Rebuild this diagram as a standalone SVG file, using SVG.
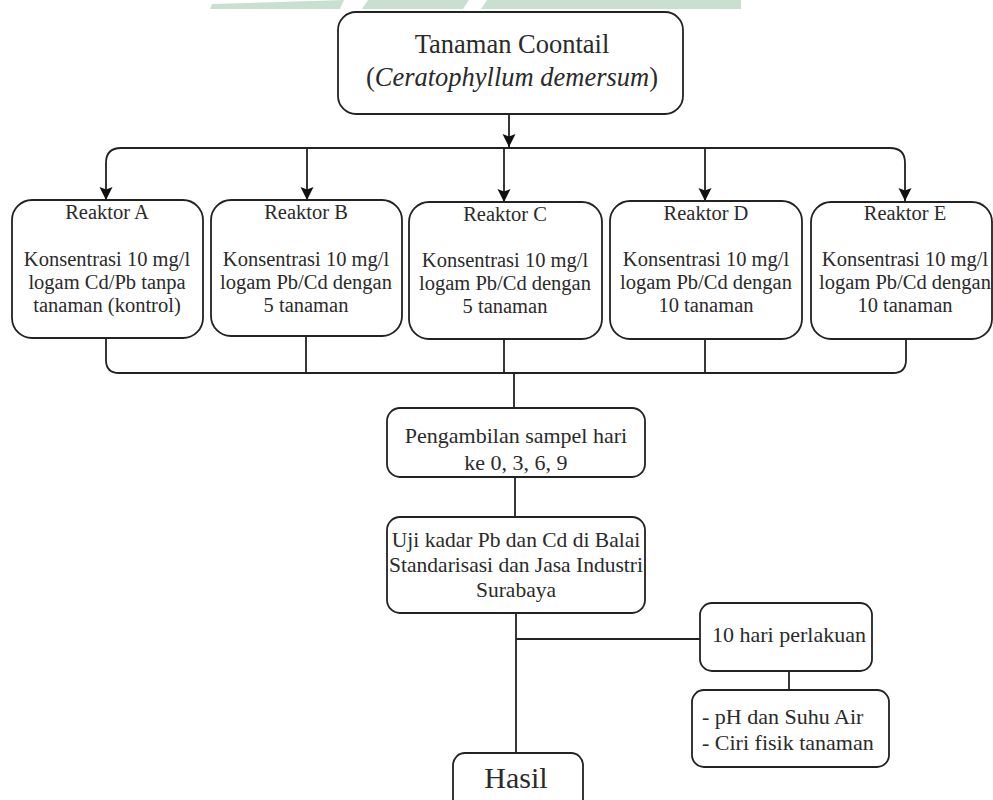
<svg xmlns="http://www.w3.org/2000/svg" width="993" height="800" viewBox="0 0 993 800" font-family="Liberation Serif, Times New Roman, serif">
<style>
.box{fill:#fff;stroke:#222;stroke-width:1.8}
.ln{fill:none;stroke:#222;stroke-width:1.8}
text{fill:#2a2a2a;text-anchor:middle}
.r{font-size:20.5px}
.m{font-size:22px}
.wm{fill:#c9e0d1}
</style>
<defs>
<marker id="arr" viewBox="0 0 14 14" markerWidth="14" markerHeight="14" refX="13" refY="7" orient="auto" markerUnits="userSpaceOnUse">
<path d="M0,0.5 L13,7 L0,13.5 L2.5,7 Z" fill="#111"/>
</marker>
</defs>
<rect width="993" height="800" fill="#fff"/>
<g id="watermark">
<polygon class="wm" points="210,9 212,4 344,0 340,9"/>
<polygon class="wm" points="362,9 368,0 469,0 463,9"/>
<polygon class="wm" points="481,9 487,0 741,0 741,9"/>
</g>
<g id="connectors">
<path class="ln" d="M509,114 V147" marker-end="url(#arr)"/>
<path class="ln" d="M121,148 H890"/>
<path class="ln" d="M121,148 Q106,148 106,163 V200" marker-end="url(#arr)"/>
<path class="ln" d="M890,148 Q905,148 905,163 V201" marker-end="url(#arr)"/>
<path class="ln" d="M307,148 V200" marker-end="url(#arr)"/>
<path class="ln" d="M504,148 V202" marker-end="url(#arr)"/>
<path class="ln" d="M705,148 V201" marker-end="url(#arr)"/>
<path class="ln" d="M106,338 V360 Q106,373 119,373 H893 Q906,373 906,360 V339"/>
<path class="ln" d="M306,336 V373"/>
<path class="ln" d="M504,339 V373"/>
<path class="ln" d="M705,339 V373"/>
<path class="ln" d="M514,373 V408"/>
<path class="ln" d="M515,477 V517"/>
<path class="ln" d="M516,613 V753"/>
<path class="ln" d="M516,639 H700"/>
<path class="ln" d="M789,671 V690"/>
</g>
<g id="n-top">
<rect class="box" x="338" y="12" width="345" height="102" rx="18"/>
<text x="512" y="53" font-size="26.5">Tanaman Coontail</text>
<text x="512" y="86" font-size="26.5">(<tspan font-style="italic">Ceratophyllum demersum</tspan>)</text>
</g>
<g id="n-a">
<rect class="box" x="12" y="200" width="191" height="138" rx="20"/>
<text class="r" x="107" y="219">Reaktor A</text>
<text class="r" x="107" y="266">Konsentrasi 10 mg/l</text>
<text class="r" x="107" y="289">logam Cd/Pb tanpa</text>
<text class="r" x="107" y="312">tanaman (kontrol)</text>
</g>
<g id="n-b">
<rect class="box" x="211" y="200" width="191" height="136" rx="20"/>
<text class="r" x="306" y="219">Reaktor B</text>
<text class="r" x="306" y="266">Konsentrasi 10 mg/l</text>
<text class="r" x="306" y="289">logam Pb/Cd dengan</text>
<text class="r" x="306" y="312">5 tanaman</text>
</g>
<g id="n-c">
<rect class="box" x="409" y="202" width="193" height="137" rx="20"/>
<text class="r" x="505" y="221">Reaktor C</text>
<text class="r" x="505" y="267">Konsentrasi 10 mg/l</text>
<text class="r" x="505" y="290">logam Pb/Cd dengan</text>
<text class="r" x="505" y="313">5 tanaman</text>
</g>
<g id="n-d">
<rect class="box" x="610" y="201" width="192" height="138" rx="20"/>
<text class="r" x="706" y="220">Reaktor D</text>
<text class="r" x="706" y="266">Konsentrasi 10 mg/l</text>
<text class="r" x="706" y="289">logam Pb/Cd dengan</text>
<text class="r" x="706" y="312">10 tanaman</text>
</g>
<g id="n-e">
<rect class="box" x="811" y="202" width="181" height="137" rx="20"/>
<text class="r" x="905" y="220">Reaktor E</text>
<text class="r" x="905" y="266">Konsentrasi 10 mg/l</text>
<text class="r" x="905" y="289">logam Pb/Cd dengan</text>
<text class="r" x="905" y="312">10 tanaman</text>
</g>
<g id="n-sampel">
<rect class="box" x="387" y="408" width="258" height="69" rx="13"/>
<text class="m" x="516" y="443">Pengambilan sampel hari</text>
<text class="m" x="516" y="470">ke 0, 3, 6, 9</text>
</g>
<g id="n-uji">
<rect class="box" x="387" y="517" width="258" height="96" rx="13"/>
<text x="516" y="547" font-size="21.5">Uji kadar Pb dan Cd di Balai</text>
<text x="516" y="572" font-size="21.5">Standarisasi dan Jasa Industri</text>
<text x="516" y="597" font-size="21.5">Surabaya</text>
</g>
<g id="n-perlakuan">
<rect class="box" x="700" y="603" width="172" height="68" rx="12"/>
<text class="m" x="789" y="642">10 hari perlakuan</text>
</g>
<g id="n-param">
<rect class="box" x="692" y="690" width="197" height="77" rx="12"/>
<text class="m" x="702" y="724" style="text-anchor:start">- pH dan Suhu Air</text>
<text class="m" x="702" y="750" style="text-anchor:start">- Ciri fisik tanaman</text>
</g>
<g id="n-hasil">
<rect class="box" x="453" y="753" width="130" height="70" rx="12"/>
<text x="516" y="788" font-size="30px">Hasil</text>
</g>
</svg>
